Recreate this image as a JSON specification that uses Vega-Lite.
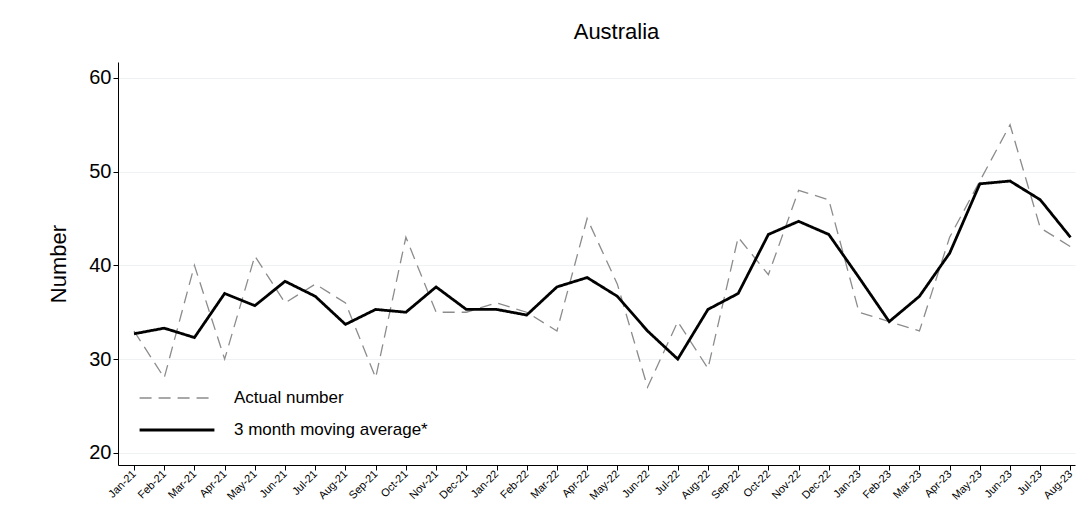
{
"$schema":"https://vega.github.io/schema/vega-lite/v6.json",
"width":957,"height":403,"autosize":"none",
"padding":{"left":118,"top":62,"right":3,"bottom":59},
"background":"white",
"config":{"font":"Liberation Sans","view":{"stroke":null}},
"title":{"text":"Australia","fontSize":22,"fontWeight":"normal","color":"black","offset":18,"dx":20},
"data":{"values":[
{"i":0,"a":33,"m":32.7},{"i":1,"a":28,"m":33.3},{"i":2,"a":40,"m":32.3},{"i":3,"a":30,"m":37},{"i":4,"a":41,"m":35.7},{"i":5,"a":36,"m":38.3},{"i":6,"a":38,"m":36.7},{"i":7,"a":36,"m":33.7},{"i":8,"a":28,"m":35.3},{"i":9,"a":43,"m":35},{"i":10,"a":35,"m":37.7},{"i":11,"a":35,"m":35.3},{"i":12,"a":36,"m":35.3},{"i":13,"a":35,"m":34.7},{"i":14,"a":33,"m":37.7},{"i":15,"a":45,"m":38.7},{"i":16,"a":38,"m":36.7},{"i":17,"a":27,"m":33},{"i":18,"a":34,"m":30},{"i":19,"a":29,"m":35.3},{"i":20,"a":43,"m":37},{"i":21,"a":39,"m":43.3},{"i":22,"a":48,"m":44.7},{"i":23,"a":47,"m":43.3},{"i":24,"a":35,"m":38.7},{"i":25,"a":34,"m":34},{"i":26,"a":33,"m":36.7},{"i":27,"a":43,"m":41.3},{"i":28,"a":49,"m":48.7},{"i":29,"a":55,"m":49},{"i":30,"a":44,"m":47},{"i":31,"a":42,"m":43}
]},
"transform":[{"fold":["a","m"],"as":["k","v"]},
{"calculate":"datum.k=='a'?'Actual number':'3 month moving average*'","as":"series"}],
"mark":{"type":"line"},
"encoding":{
"x":{"field":"i","type":"quantitative","scale":{"domain":[-0.53,31.15],"nice":false,"zero":false},
"axis":{"values":[0,1,2,3,4,5,6,7,8,9,10,11,12,13,14,15,16,17,18,19,20,21,22,23,24,25,26,27,28,29,30,31],
"labelExpr":"['Jan-21','Feb-21','Mar-21','Apr-21','May-21','Jun-21','Jul-21','Aug-21','Sep-21','Oct-21','Nov-21','Dec-21','Jan-22','Feb-22','Mar-22','Apr-22','May-22','Jun-22','Jul-22','Aug-22','Sep-22','Oct-22','Nov-22','Dec-22','Jan-23','Feb-23','Mar-23','Apr-23','May-23','Jun-23','Jul-23','Aug-23'][datum.value]",
"labelOverlap":false,"labelAngle":-45,"labelAlign":"right","labelBaseline":"middle","labelFontSize":11,"labelColor":"black","domainColor":"black","tickColor":"black","grid":false,"title":null,"labelPadding":2}},
"y":{"field":"v","type":"quantitative","scale":{"domain":[18.7,61.7],"nice":false,"zero":false},
"axis":{"values":[20,30,40,50,60],"labelFontSize":20,"labelColor":"black","domainColor":"black","tickColor":"black","gridColor":"#eef2f2","title":"Number","titleFontSize":22,"titleFontWeight":"normal","titlePadding":18}},
"color":{"field":"series","type":"nominal","scale":{"domain":["Actual number","3 month moving average*"],"range":["#8c8c8c","black"]},
"legend":{"title":null,"orient":"none","legendX":20,"legendY":326,"labelFontSize":17,"labelColor":"black","labelLimit":400,"symbolType":"stroke","symbolSize":5600,"symbolStrokeWidth":2.5,"clipHeight":20,"rowPadding":12,"labelOffset":18}},
"strokeDash":{"field":"series","type":"nominal","scale":{"domain":["Actual number","3 month moving average*"],"range":[[12,7],[1,0]]},"legend":null},
"strokeWidth":{"field":"series","type":"nominal","scale":{"domain":["Actual number","3 month moving average*"],"range":[1.3,2.8]},"legend":null}
}
}
